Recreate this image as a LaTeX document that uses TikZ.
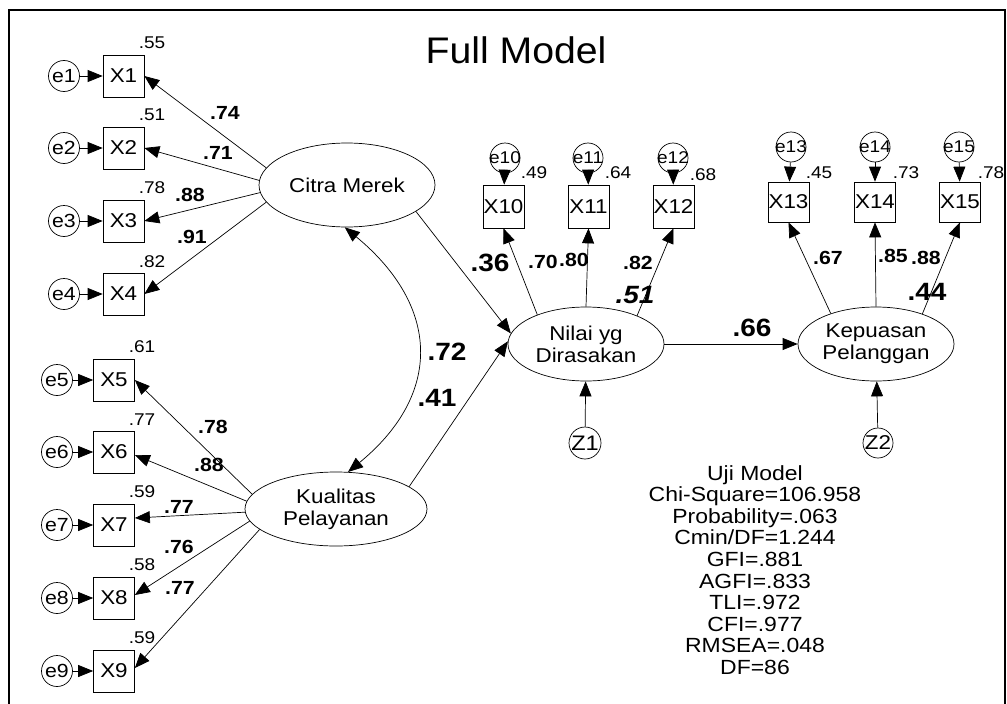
\documentclass[tikz,border=0pt]{standalone}
\usepackage{fontspec}
\usetikzlibrary{shapes.geometric,arrows.meta}
\newfontfamily\amos[FakeStretch=1.12]{Liberation Sans}
\newfontfamily\amostitle[FakeStretch=1.06]{Liberation Sans}
\begin{document}
\begin{tikzpicture}[x=1pt,y=-1pt,
  obs/.style={draw, line width=0.7pt, minimum width=41pt, minimum height=42pt, inner sep=0pt, font=\amos\fontsize{20}{22}\selectfont},
  err/.style={draw, circle, line width=0.7pt, minimum size=31pt, inner sep=0pt, font=\amos\fontsize{19}{21}\selectfont},
  errs/.style={draw, circle, line width=0.7pt, minimum size=30pt, inner sep=0pt, font=\amos\fontsize{17}{19}\selectfont},
  lat/.style={draw, ellipse, line width=0.7pt, inner sep=0pt},
  lattext/.style={align=center, inner sep=0pt, font=\amos\fontsize{20}{21.7}\selectfont},
  arr/.style={line width=0.7pt, -{Triangle[length=15pt,width=12pt]}},
  darr/.style={line width=0.7pt, {Triangle[length=15pt,width=12pt]}-{Triangle[length=15pt,width=12pt]}},
  var/.style={inner sep=0pt, font=\amos\fontsize{17}{19}\selectfont},
  ld/.style={inner sep=0pt, font=\amos\bfseries\fontsize{19}{21}\selectfont},
  bld/.style={inner sep=0pt, font=\amos\bfseries\fontsize{25}{27}\selectfont},
  bldi/.style={inner sep=0pt, font=\amos\bfseries\itshape\fontsize{25}{27}\selectfont},
  stat/.style={align=center, inner sep=0pt, font=\amos\fontsize{20.5}{21.6}\selectfont}
]
\useasboundingbox (0,0) rectangle (1007,704);
\fill[white] (0,0) rectangle (1007,704);
% frame
\draw[line width=2.2pt, line join=miter] (9,706) -- (9,10) -- (1005,10) -- (1005,706);
% title
\node[inner sep=0pt, font=\amostitle\fontsize{37}{40}\selectfont] (title) at (516,50) {Full Model};

% Citra Merek indicators
\node[obs] (X1) at (123.5,76) {X1};
\node[obs] (X2) at (123.5,148) {X2};
\node[obs] (X3) at (123.5,221) {X3};
\node[obs] (X4) at (123.5,294) {X4};
\node[err] (e1) at (64,76) {\makebox[0pt]{e1}};
\node[err] (e2) at (64,148) {\makebox[0pt]{e2}};
\node[err] (e3) at (64,221) {\makebox[0pt]{e3}};
\node[err] (e4) at (64,294) {\makebox[0pt]{e4}};
\node[var] (v1) at (152,43) {.55};
\node[var] (v2) at (152,115) {.51};
\node[var] (v3) at (152,188) {.78};
\node[var] (v4) at (152,262) {.82};
\draw[arr] (e1) -- (X1);
\draw[arr] (e2) -- (X2);
\draw[arr] (e3) -- (X3);
\draw[arr] (e4) -- (X4);

% Kualitas Pelayanan indicators
\node[obs] (X5) at (114,380) {X5};
\node[obs] (X6) at (114,452) {X6};
\node[obs] (X7) at (114,525) {X7};
\node[obs] (X8) at (114,598) {X8};
\node[obs] (X9) at (114,671) {X9};
\node[err] (e5) at (57,380) {\makebox[0pt]{e5}};
\node[err] (e6) at (57,452) {\makebox[0pt]{e6}};
\node[err] (e7) at (57,525) {\makebox[0pt]{e7}};
\node[err] (e8) at (57,598) {\makebox[0pt]{e8}};
\node[err] (e9) at (57,671) {\makebox[0pt]{e9}};
\node[var] (v5) at (142,347) {.61};
\node[var] (v6) at (142,420) {.77};
\node[var] (v7) at (142,492) {.59};
\node[var] (v8) at (142,565) {.58};
\node[var] (v9) at (142,638) {.59};
\draw[arr] (e5) -- (X5);
\draw[arr] (e6) -- (X6);
\draw[arr] (e7) -- (X7);
\draw[arr] (e8) -- (X8);
\draw[arr] (e9) -- (X9);

% latent variables
\node[lat, minimum width=176pt, minimum height=84pt] (cm) at (347,185) {};
\node[lattext] (cmt) at (cm) {Citra Merek};
\node[lat, minimum width=182pt, minimum height=74pt] (kp) at (336,509) {};
\node[lattext] (kpt) at (kp) {Kualitas\\Pelayanan};
\node[lat, minimum width=156pt, minimum height=74pt] (nd) at (586,344) {};
\node[lattext] (ndt) at (nd) {Nilai yg\\Dirasakan};
\node[lat, minimum width=156pt, minimum height=74pt] (pp) at (876,344) {};
\node[lattext] (ppt) at (pp) {Kepuasan\\Pelanggan};

% Nilai indicators
\node[obs, minimum height=43pt] (X10) at (503.5,206.5) {X10};
\node[obs, minimum height=43pt] (X11) at (588.5,206.5) {X11};
\node[obs, minimum height=43pt] (X12) at (673.5,206.5) {X12};
\node[errs] (e10) at (505,158) {\makebox[0pt]{e10}};
\node[errs] (e11) at (588,158) {\makebox[0pt]{e11}};
\node[errs] (e12) at (673,158) {\makebox[0pt]{e12}};
\node[var] (v10) at (534,173) {.49};
\node[var] (v11) at (618,173) {.64};
\node[var] (v12) at (703,175) {.68};
\draw[arr] (e10) -- (X10);
\draw[arr] (e11) -- (X11);
\draw[arr] (e12) -- (X12);

% Kepuasan indicators
\node[obs, minimum height=40pt] (X13) at (788.5,202) {X13};
\node[obs, minimum height=40pt] (X14) at (875,202) {X14};
\node[obs, minimum height=40pt] (X15) at (960,202) {X15};
\node[errs] (e13) at (791,147) {\makebox[0pt]{e13}};
\node[errs] (e14) at (875,147) {\makebox[0pt]{e14}};
\node[errs] (e15) at (959,147) {\makebox[0pt]{e15}};
\node[var] (v13) at (819,173) {.45};
\node[var] (v14) at (906,173) {.73};
\node[var] (v15) at (991,173) {.78};
\draw[arr] (e13) -- (X13);
\draw[arr] (e14) -- (X14);
\draw[arr] (e15) -- (X15);

% disturbances
\node[err, minimum size=32pt, font=\amos\fontsize{21}{23}\selectfont] (z1) at (585,443) {\makebox[0pt]{Z1}};
\node[err, minimum size=30pt, font=\amos\fontsize{20}{22}\selectfont] (z2) at (878,443) {\makebox[0pt]{Z2}};
\draw[arr] (z1) -- (nd);
\draw[arr] (z2) -- (pp);

% loadings Citra Merek
\draw[arr] (cm.168) -- (X1.east);
\draw[arr] (cm.177) -- (X2.east);
\draw[arr] (cm.185) -- (X3.east);
\draw[arr] (cm.192) -- (X4.east);
\node[ld] (l1) at (225,113) {.74};
\node[ld] (l2) at (218,153) {.71};
\node[ld] (l3) at (190,195) {.88};
\node[ld] (l4) at (192,237) {.91};

% loadings Kualitas Pelayanan
\draw[arr] (kp.170) -- (X5.east);
\draw[arr] (kp.175) -- ([yshift=-3pt]X6.east);
\draw[arr] (kp.182) -- ([yshift=7pt]X7.east);
\draw[arr] (kp.188) -- ([yshift=3pt]X8.east);
\draw[arr] (kp.195) -- ([yshift=3pt]X9.east);
\node[ld] (l5) at (213,427) {.78};
\node[ld] (l6) at (209,465) {.88};
\node[ld] (l7) at (179,507) {.77};
\node[ld] (l8) at (179,547) {.76};
\node[ld] (l9) at (180,588) {.77};

% loadings Nilai
\draw[arr] (nd.149) -- (X10.south);
\draw[arr] (nd.90) -- (X11.south);
\draw[arr] (nd.29) -- (X12.south);
\node[ld] (l10) at (543,262) {.70};
\node[ld] (l11) at (574,260) {.80};
\node[ld] (l12) at (638,263) {.82};

% loadings Kepuasan
\draw[arr] (pp.146) -- (X13.south);
\draw[arr] (pp.90) -- (X14.south);
\draw[arr] (pp.33) -- (X15.south);
\node[ld] (l13) at (828,258) {.67};
\node[ld] (l14) at (893,256) {.85};
\node[ld] (l15) at (926,258) {.88};

% structural paths
\draw[arr] (cm.339) -- (nd.172);
\draw[arr] (kp.17) -- (nd.178);
\draw[arr] (nd) -- (pp);
\draw[darr] (cm.267) .. controls (440,306) and (443,394) .. (kp.72);
\node[bld] (p1) at (490,263) {.36};
\node[bldi] (p2) at (635,295) {.51};
\node[bld] (p3) at (447,352) {.72};
\node[bld] (p4) at (437,398) {.41};
\node[bld] (p5) at (752,328) {.66};
\node[bld] (p6) at (927,292) {.44};

% fit statistics
\node[stat] (stats) at (755,570) {Uji Model\\Chi-Square=106.958\\Probability=.063\\Cmin/DF=1.244\\GFI=.881\\AGFI=.833\\TLI=.972\\CFI=.977\\RMSEA=.048\\DF=86};
\end{tikzpicture}
\end{document}
